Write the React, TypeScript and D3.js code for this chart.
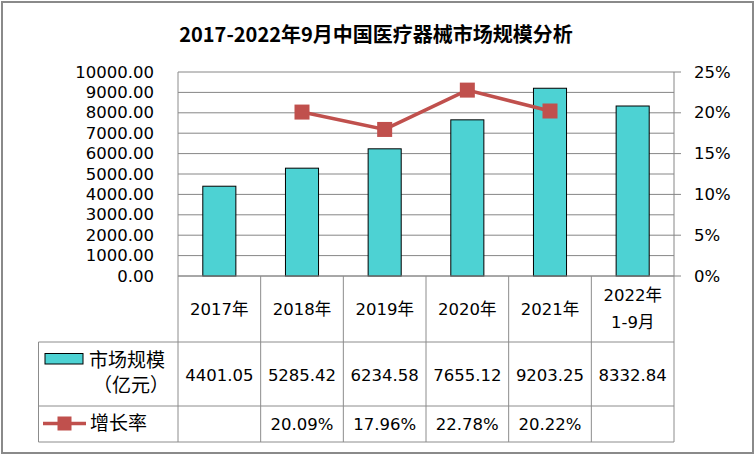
import React from 'react';
import * as d3 from 'd3';

const categories = ['2017年', '2018年', '2019年', '2020年', '2021年', '2022年\n1-9月'];
const marketSize = [4401.05, 5285.42, 6234.58, 7655.12, 9203.25, 8332.84];
const growthRate: (number | null)[] = [null, 20.09, 17.96, 22.78, 20.22, null];
const leftTicks = [0, 1000, 2000, 3000, 4000, 5000, 6000, 7000, 8000, 9000, 10000];
const rightTicks = [0, 5, 10, 15, 20, 25];

const W = 756;
const H = 456;
const plot = { left: 178, right: 674, top: 72, bottom: 276 };
const table = { legendLeft: 38.5, headBottom: 342, row2Bottom: 406, row3Bottom: 442 };

const barColor = '#4dd2d3';
const lineColor = '#c0504d';
const gridColor = '#868686';
const font = '"DejaVu Sans", "Noto Sans CJK SC", sans-serif';

const App: React.FC = () => {
  const x = d3.scaleBand<string>().domain(categories).range([plot.left, plot.right]).padding(0);
  const y = d3.scaleLinear().domain([0, 10000]).range([plot.bottom, plot.top]);
  const y2 = d3.scaleLinear().domain([0, 25]).range([plot.bottom, plot.top]);
  const bw = x.bandwidth() * 0.4;
  const cx = (c: string) => (x(c) ?? 0) + x.bandwidth() / 2;

  const linePts = categories
    .map((c, i) => ({ c, v: growthRate[i] }))
    .filter((d) => d.v != null) as { c: string; v: number }[];
  const line = d3
    .line<{ c: string; v: number }>()
    .x((d) => cx(d.c))
    .y((d) => y2(d.v));

  const edges = categories.map((c) => x(c) ?? 0).concat([plot.right]);

  return (
    <div style={{ position: 'fixed', left: 0, top: 0 }}>
      <svg width={W} height={H} style={{ display: 'block', background: '#fff' }}>
        <rect x={2} y={2} width={751} height={451} fill="#fff" stroke="#8a8a8a" strokeWidth={2} />
        <text x={376} y={33} textAnchor="middle" dominantBaseline="central"
          style={{ font: `bold 20px "Noto Sans CJK SC", sans-serif` }} fill="#000">
          2017-2022年9月中国医疗器械市场规模分析
        </text>

        {/* gridlines */}
        {leftTicks.map((t) => (
          <line key={t} x1={plot.left} x2={plot.right} y1={y(t)} y2={y(t)} stroke={gridColor} strokeWidth={1} />
        ))}
        {/* left axis labels */}
        {leftTicks.map((t) => (
          <text key={'l' + t} x={154} y={y(t)} textAnchor="end" dominantBaseline="central"
            style={{ font: `16.5px ${font}` }} fill="#000">
            {t.toFixed(2)}
          </text>
        ))}
        {/* right axis */}
        <line x1={plot.right} x2={plot.right} y1={plot.top} y2={plot.bottom} stroke={gridColor} />
        {rightTicks.map((t) => (
          <g key={'r' + t}>
            <line x1={plot.right} x2={plot.right + 7} y1={y2(t)} y2={y2(t)} stroke={gridColor} />
            <text x={694} y={y2(t)} dominantBaseline="central" style={{ font: `16.5px ${font}` }} fill="#000">
              {t}%
            </text>
          </g>
        ))}

        {/* bars */}
        {categories.map((c, i) => (
          <rect key={c} x={cx(c) - bw / 2} y={y(marketSize[i])} width={bw}
            height={y(0) - y(marketSize[i])} fill={barColor} stroke="#000" strokeWidth={1} />
        ))}

        {/* growth line */}
        <path d={line(linePts) ?? ''} fill="none" stroke={lineColor} strokeWidth={3.5} />
        {linePts.map((d) => (
          <rect key={'m' + d.c} x={cx(d.c) - 7.5} y={y2(d.v) - 7.5} width={15} height={15} fill={lineColor} />
        ))}

        {/* data table */}
        <g stroke="#8c8c8c" strokeWidth={1} fill="none">
          <line x1={plot.left} x2={plot.left} y1={plot.top} y2={table.row3Bottom} />
          <line x1={plot.left} x2={plot.right} y1={plot.bottom} y2={plot.bottom} />
          <line x1={table.legendLeft} x2={plot.right} y1={table.headBottom} y2={table.headBottom} />
          <line x1={table.legendLeft} x2={plot.right} y1={table.row2Bottom} y2={table.row2Bottom} />
          <line x1={table.legendLeft} x2={plot.right} y1={table.row3Bottom} y2={table.row3Bottom} />
          <line x1={table.legendLeft} x2={table.legendLeft} y1={table.headBottom} y2={table.row3Bottom} />
          {edges.slice(1).map((e, i) => (
            <line key={'v' + i} x1={e} x2={e} y1={plot.bottom} y2={table.row3Bottom} />
          ))}
        </g>

        {categories.map((c) => {
          const lines = c.split('\n');
          const mid = (plot.bottom + table.headBottom) / 2;
          return lines.map((t, j) => (
            <text key={c + j} x={cx(c)} y={mid + (j - (lines.length - 1) / 2) * 26.5}
              textAnchor="middle" dominantBaseline="central" style={{ font: `16.5px ${font}` }} fill="#000">
              {t}
            </text>
          ));
        })}
        {marketSize.map((v, i) => (
          <text key={'v' + i} x={cx(categories[i])} y={375} textAnchor="middle" dominantBaseline="central"
            style={{ font: `16.5px ${font}` }} fill="#000">
            {v.toFixed(2)}
          </text>
        ))}
        {growthRate.map((v, i) =>
          v == null ? null : (
            <text key={'g' + i} x={cx(categories[i])} y={424} textAnchor="middle" dominantBaseline="central"
              style={{ font: `16.5px ${font}` }} fill="#000">
              {v.toFixed(2)}%
            </text>
          )
        )}

        {/* legend cells */}
        <rect x={45} y={353.5} width={38} height={10.5} fill={barColor} stroke="#000" strokeWidth={1} />
        <text x={89} y={360} dominantBaseline="central" style={{ font: `19px ${font}` }} fill="#000">市场规模</text>
        <text x={93} y={385} dominantBaseline="central" style={{ font: `19px ${font}` }} fill="#000">（亿元）</text>
        <line x1={43} x2={86} y1={423.5} y2={423.5} stroke={lineColor} strokeWidth={3.5} />
        <rect x={57.5} y={416.5} width={14} height={14} fill={lineColor} />
        <text x={90} y={423} dominantBaseline="central" style={{ font: `19px ${font}` }} fill="#000">增长率</text>
      </svg>
    </div>
  );
};

export default App;
